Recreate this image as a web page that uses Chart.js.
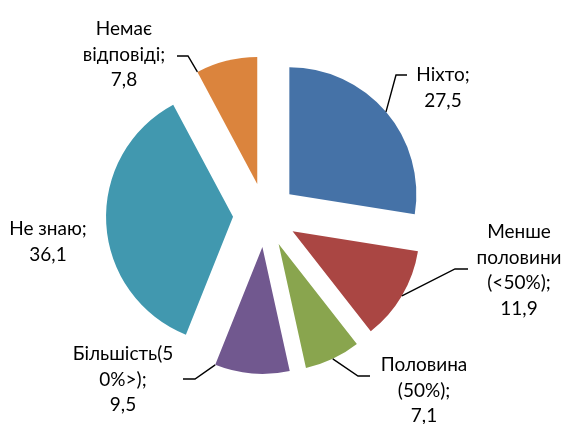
<!DOCTYPE html>
<html>
<head>
<meta charset="utf-8">
<script src="https://cdn.jsdelivr.net/npm/chart.js@4.4.0/dist/chart.umd.min.js"></script>
<style>
  html, body { margin: 0; padding: 0; background: #fff; }
  #wrap { width: 564px; height: 424px; }
</style>
</head>
<body>
<div id="wrap"><canvas id="pieChart"></canvas></div>
<script>
const categories = ["Ніхто", "Менше половини (<50%)", "Половина (50%)", "Більшість(50%>)", "Не знаю", "Немає відповіді"];
const values = [27.5, 11.9, 7.1, 9.5, 36.1, 7.8];
const colors = ["#4572A7", "#AA4643", "#89A54E", "#71588F", "#4198AF", "#DB843D"];
// how each category name wraps in the label
const nameLines = [
  ["Ніхто;"],
  ["Менше", "половини", "(<50%);"],
  ["Половина", "(50%);"],
  ["Більшість(5", "0%>);"],
  ["Не знаю;"],
  ["Немає", "відповіді;"],
];

// label placement: text centre, first line y, where leader starts on the arc (0..1 of slice), elbow and end
const labelPos = [
  { x: 443, y: 75,  at: 0.5, elbow: [396, 75],  end: [407, 75] },
  { x: 519, y: 232, at: 0.5, elbow: [455, 269], end: [468, 269] },
  { x: 424, y: 365, at: 0.5, elbow: [358, 376], end: [370, 376] },
  { x: 123, y: 354, at: 1,   elbow: [195, 379], end: [183, 379] },
  { x: 48,  y: 229, at: 0.5, elbow: null, end: null },
  { x: 124, y: 29,  at: 0,   elbow: [188, 56],  end: [177, 56] },
];
const explodeDist = 32;
const lineHeight = 25.5;

// push every slice out along its middle angle
const explodePlugin = {
  id: "explode",
  afterDatasetsUpdate(chart) {
    chart.getDatasetMeta(0).data.forEach((arc) => {
      const mid = (arc.startAngle + arc.endAngle) / 2;
      arc.x += Math.cos(mid) * explodeDist;
      arc.y += Math.sin(mid) * explodeDist;
    });
  },
};

const labelPlugin = {
  id: "sliceLabels",
  afterDatasetsDraw(chart) {
    const ctx = chart.ctx;
    ctx.save();
    ctx.font = "19px Lato";
    ctx.fillStyle = "#000";
    ctx.textAlign = "center";
    ctx.textBaseline = "middle";
    chart.getDatasetMeta(0).data.forEach((arc, i) => {
      const p = labelPos[i];
      const lines = nameLines[i].concat([values[i].toFixed(1).replace(".", ",")]);
      lines.forEach((t, k) => ctx.fillText(t, p.x, p.y + k * lineHeight));
      if (p.elbow) {
        const a = arc.startAngle + (arc.endAngle - arc.startAngle) * p.at;
        const ax = arc.x + Math.cos(a) * arc.outerRadius;
        const ay = arc.y + Math.sin(a) * arc.outerRadius;
        ctx.beginPath();
        ctx.moveTo(ax, ay);
        ctx.lineTo(p.elbow[0], p.elbow[1]);
        ctx.lineTo(p.end[0], p.end[1]);
        ctx.strokeStyle = "#000";
        ctx.lineWidth = 1.4;
        ctx.stroke();
      }
    });
    ctx.restore();
  },
};

const ctx = document.getElementById("pieChart").getContext("2d");
const myChart = new Chart(ctx, {
  type: "pie",
  data: {
    labels: categories,
    datasets: [
      {
        data: values,
        backgroundColor: colors,
        borderWidth: 0,
        radius: 127,
      },
    ],
  },
  options: {
    responsive: true,
    maintainAspectRatio: false,
    animation: false,
    layout: { padding: { left: 0, right: 34, top: 6, bottom: 0 } },
    plugins: {
      legend: { display: false },
      tooltip: { enabled: false },
    },
  },
  plugins: [explodePlugin, labelPlugin],
});
</script>
</body>
</html>
